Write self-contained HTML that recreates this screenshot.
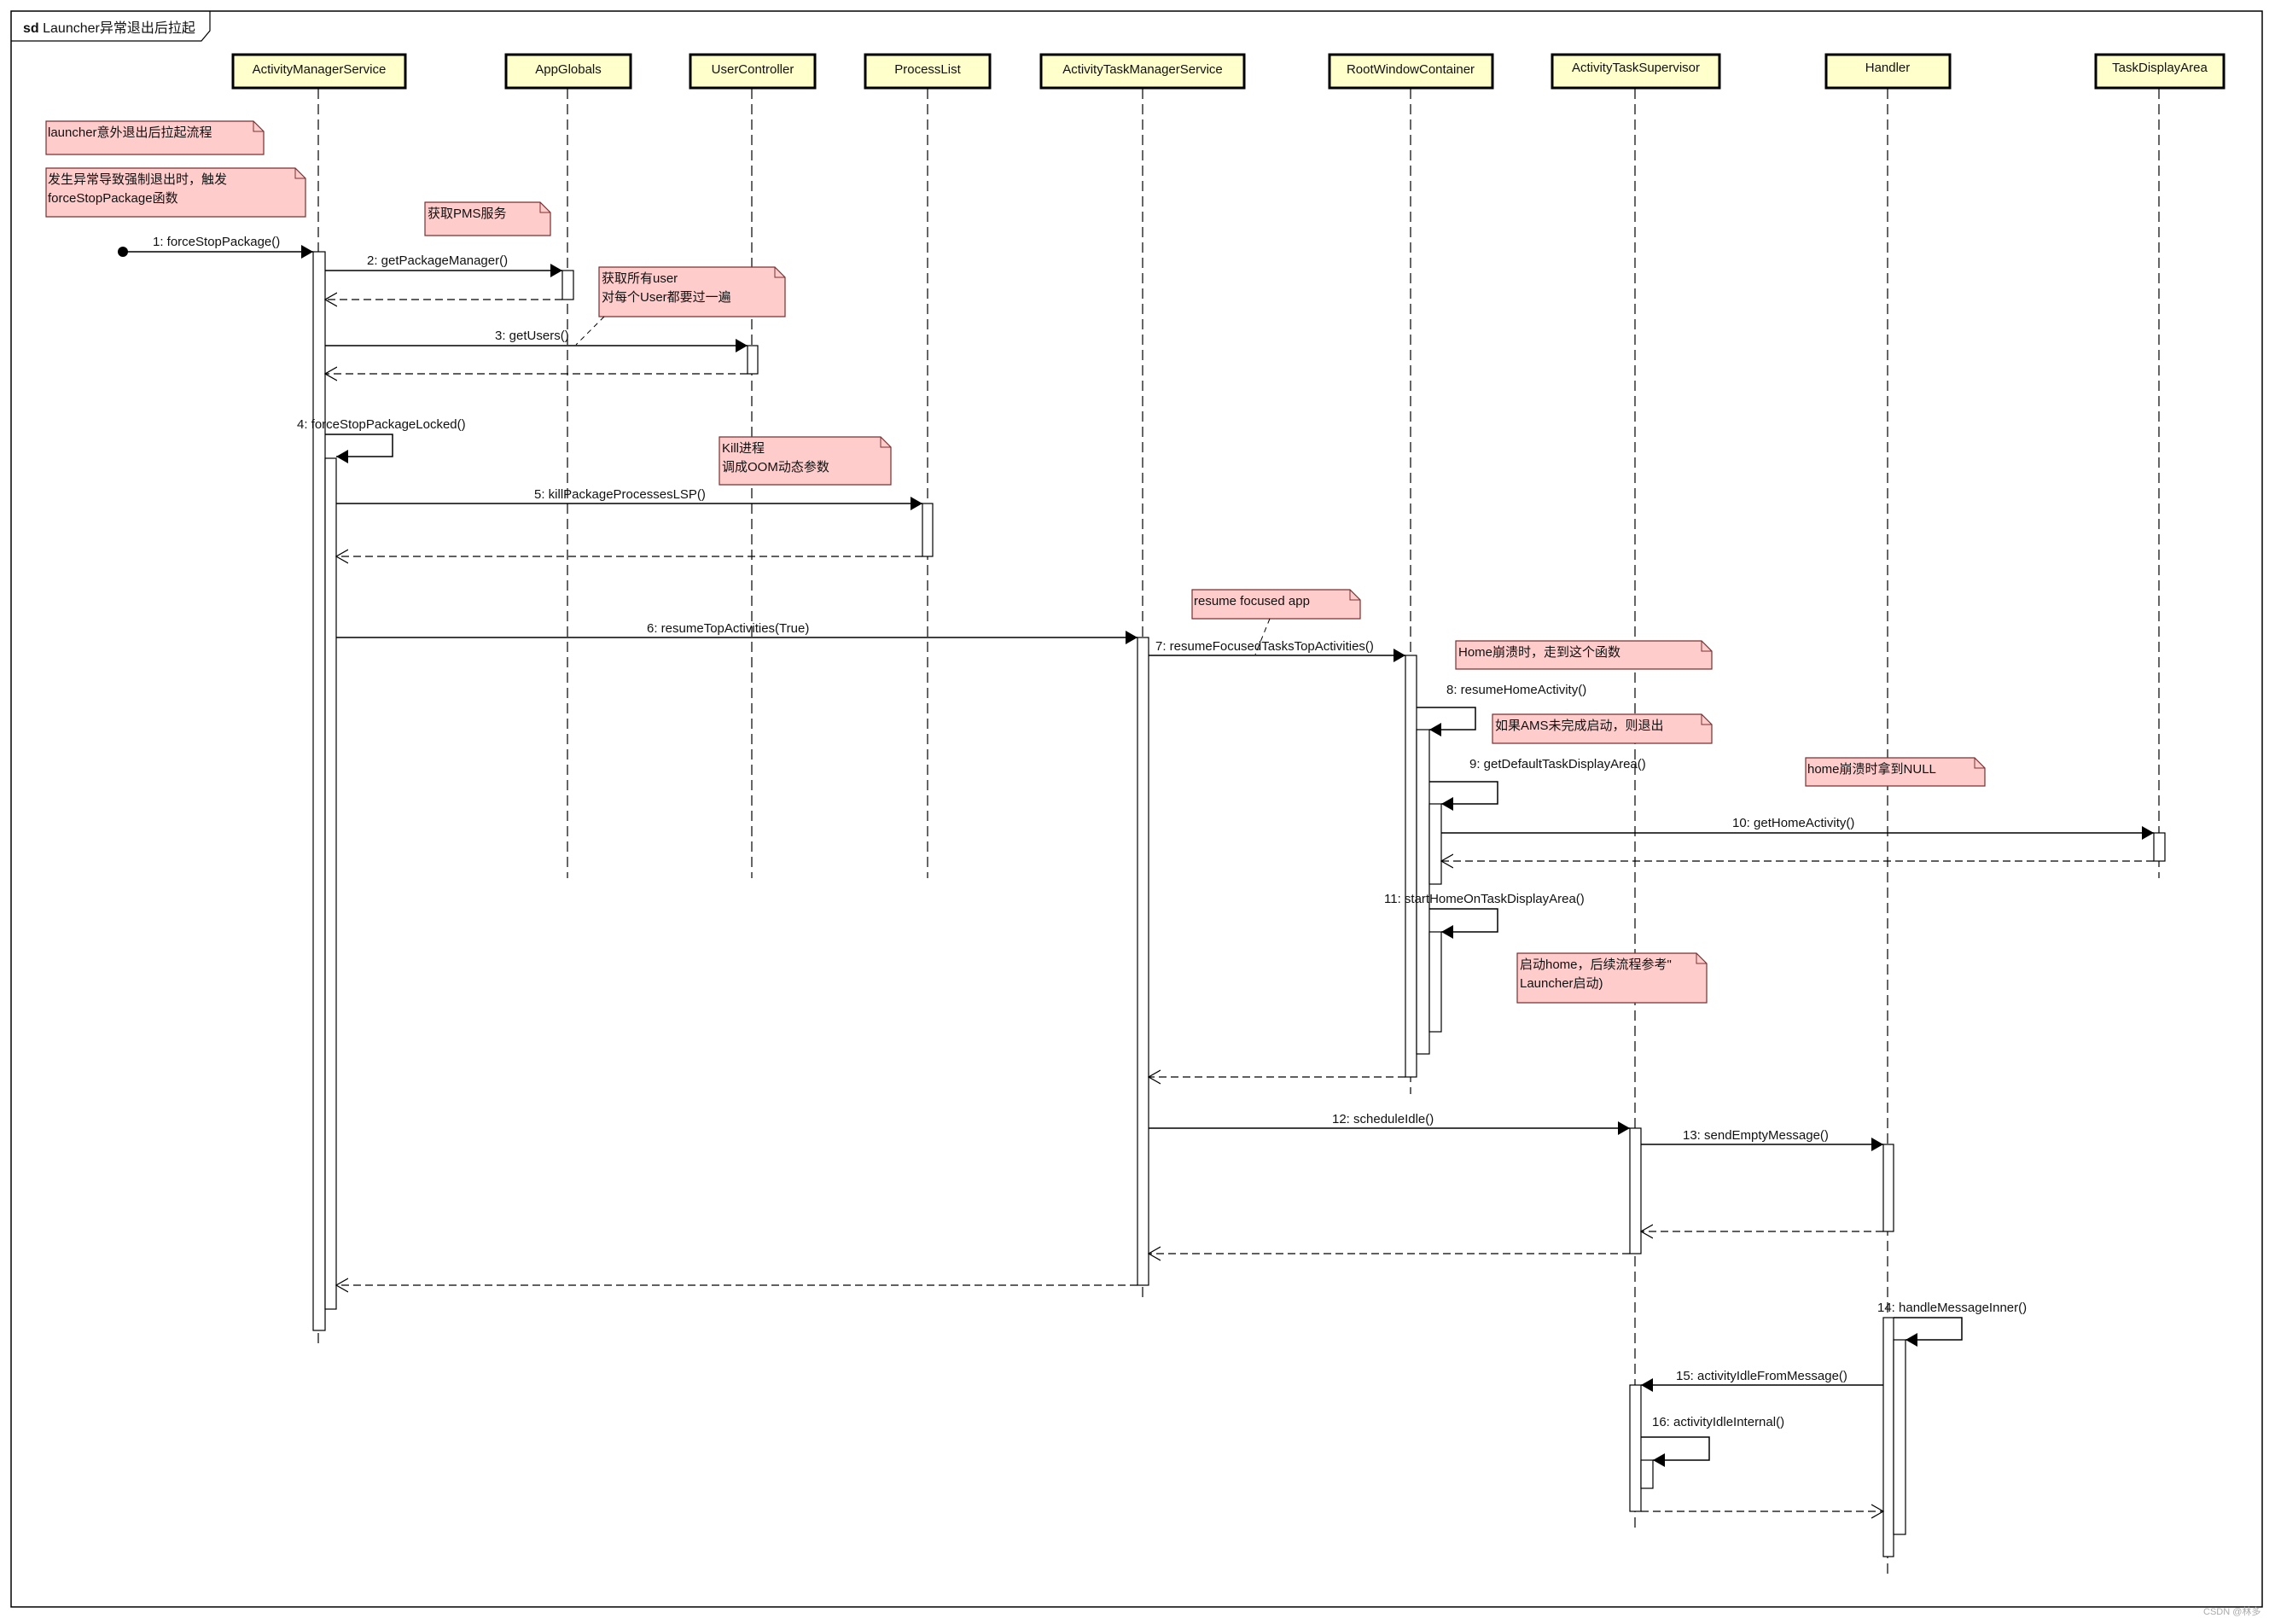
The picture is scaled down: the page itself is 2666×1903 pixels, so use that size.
<!DOCTYPE html>
<html><head><meta charset="utf-8"><style>
html,body{margin:0;padding:0;background:#fff;}
svg text{font-family:"Liberation Sans","Noto Sans CJK SC",sans-serif;font-size:15px;fill:#111;}
</style></head><body>
<svg width="2666" height="1898" viewBox="0 0 2666 1898" xmlns="http://www.w3.org/2000/svg">
<defs>
<marker id="f" markerWidth="16" markerHeight="16" refX="14" refY="8" orient="auto" markerUnits="userSpaceOnUse"><path d="M0,0 L14,8 L0,16 Z" fill="#000"/></marker>
<marker id="o" markerWidth="16" markerHeight="18" refX="14" refY="9" orient="auto" markerUnits="userSpaceOnUse"><path d="M0,1 L14,9 L0,17" fill="none" stroke="#000" stroke-width="1.2"/></marker>
</defs>
<rect x="13" y="13" width="2638" height="1870" fill="none" stroke="#000" stroke-width="1.5"/>
<path d="M13,48 L236,48 L246,36 L246,13" fill="none" stroke="#000" stroke-width="1.2"/>
<text x="27" y="38" style="font-size:16px"><tspan font-weight="bold">sd</tspan> Launcher异常退出后拉起</text>

<g stroke="#000" stroke-width="1.2" stroke-dasharray="12,6" fill="none">
<line x1="373" y1="104" x2="373" y2="1577"/>
<line x1="665" y1="104" x2="665" y2="1029"/>
<line x1="881" y1="104" x2="881" y2="1029"/>
<line x1="1087" y1="104" x2="1087" y2="1029"/>
<line x1="1339" y1="104" x2="1339" y2="1525"/>
<line x1="1653" y1="104" x2="1653" y2="1282"/>
<line x1="1916" y1="104" x2="1916" y2="1791"/>
<line x1="2212" y1="104" x2="2212" y2="1845"/>
<line x1="2530" y1="104" x2="2530" y2="1029"/>
</g>

<g fill="#ffffcc" stroke="#000" stroke-width="3">
<rect x="273" y="64" width="202" height="39"/>
<rect x="593" y="64" width="146" height="39"/>
<rect x="809" y="64" width="146" height="39"/>
<rect x="1014" y="64" width="146" height="39"/>
<rect x="1220" y="64" width="238" height="39"/>
<rect x="1558" y="64" width="191" height="39"/>
<rect x="1819" y="64" width="196" height="39"/>
<rect x="2140" y="64" width="145" height="39"/>
<rect x="2456" y="64" width="150" height="39"/>
</g>
<g text-anchor="middle">
<text x="374" y="86">ActivityManagerService</text>
<text x="666" y="86">AppGlobals</text>
<text x="882" y="86">UserController</text>
<text x="1087" y="86">ProcessList</text>
<text x="1339" y="86">ActivityTaskManagerService</text>
<text x="1653" y="86">RootWindowContainer</text>
<text x="1917" y="84">ActivityTaskSupervisor</text>
<text x="2212" y="84">Handler</text>
<text x="2531" y="84">TaskDisplayArea</text>
</g>

<!-- notes -->
<g fill="#ffcccc" stroke="#7a3030" stroke-width="1.2">
<path d="M54,142 H297 L309,154 V181 H54 Z"/>
<path d="M54,197 H346 L358,209 V254 H54 Z"/>
<path d="M498,237 H633 L645,249 V276 H498 Z"/>
<path d="M702,313 H908 L920,325 V371 H702 Z"/>
<path d="M843,512 H1032 L1044,524 V568 H843 Z"/>
<path d="M1397,691 H1582 L1594,703 V725 H1397 Z"/>
<path d="M1706,751 H1994 L2006,763 V784 H1706 Z"/>
<path d="M1749,837 H1994 L2006,849 V871 H1749 Z"/>
<path d="M2116,888 H2314 L2326,900 V921 H2116 Z"/>
<path d="M1778,1117 H1988 L2000,1129 V1175 H1778 Z"/>
</g>
<g fill="none" stroke="#7a3030" stroke-width="1">
<path d="M297,142 V154 H309"/><path d="M346,197 V209 H358"/><path d="M633,237 V249 H645"/>
<path d="M908,313 V325 H920"/><path d="M1032,512 V524 H1044"/><path d="M1582,691 V703 H1594"/>
<path d="M1994,751 V763 H2006"/><path d="M1994,837 V849 H2006"/><path d="M2314,888 V900 H2326"/>
<path d="M1988,1117 V1129 H2000"/>
</g>
<g>
<text x="56" y="160">launcher意外退出后拉起流程</text>
<text x="56" y="215">发生异常导致强制退出时，触发</text>
<text x="56" y="237">forceStopPackage函数</text>
<text x="501" y="255">获取PMS服务</text>
<text x="705" y="331">获取所有user</text>
<text x="705" y="353">对每个User都要过一遍</text>
<text x="846" y="530">Kill进程</text>
<text x="846" y="552">调成OOM动态参数</text>
<text x="1399" y="709">resume focused app</text>
<text x="1709" y="769">Home崩溃时，走到这个函数</text>
<text x="1752" y="855">如果AMS未完成启动，则退出</text>
<text x="2118" y="906">home崩溃时拿到NULL</text>
<text x="1781" y="1135">启动home，后续流程参考"</text>
<text x="1781" y="1157">Launcher启动)</text>
</g>
<g stroke="#000" stroke-width="1" stroke-dasharray="6,5">
<line x1="708" y1="371" x2="675" y2="404"/>
<line x1="1488" y1="725" x2="1471" y2="767"/>
</g>

<!-- activations -->
<g fill="#fff" stroke="#000" stroke-width="1.2">
<rect x="367" y="295" width="14" height="1264"/>
<rect x="381" y="537" width="13" height="997"/>
<rect x="659" y="317" width="13" height="34"/>
<rect x="876" y="405" width="12" height="33"/>
<rect x="1081" y="590" width="12" height="62"/>
<rect x="1333" y="747" width="13" height="759"/>
<rect x="1647" y="768" width="13" height="494"/>
<rect x="1660" y="855" width="15" height="380"/>
<rect x="1675" y="942" width="14" height="94"/>
<rect x="1675" y="1092" width="14" height="117"/>
<rect x="2524" y="976" width="13" height="33"/>
<rect x="1910" y="1322" width="13" height="147"/>
<rect x="1910" y="1623" width="13" height="148"/>
<rect x="1923" y="1711" width="14" height="33"/>
<rect x="2207" y="1341" width="12" height="102"/>
<rect x="2207" y="1544" width="12" height="280"/>
<rect x="2219" y="1570" width="14" height="228"/>
</g>

<!-- sync messages -->
<circle cx="144" cy="295" r="6" fill="#000"/>
<g stroke="#000" stroke-width="1.5" fill="none" marker-end="url(#f)">
<line x1="144" y1="295" x2="367" y2="295"/>
<line x1="381" y1="317" x2="659" y2="317"/>
<line x1="381" y1="405" x2="876" y2="405"/>
<path d="M381,509 H460 V535 H394"/>
<line x1="394" y1="590" x2="1081" y2="590"/>
<line x1="394" y1="747" x2="1333" y2="747"/>
<line x1="1346" y1="768" x2="1647" y2="768"/>
<path d="M1660,829 H1729 V855 H1675"/>
<path d="M1675,916 H1755 V942 H1689"/>
<line x1="1689" y1="976" x2="2524" y2="976"/>
<path d="M1675,1065 H1755 V1092 H1689"/>
<line x1="1346" y1="1322" x2="1910" y2="1322"/>
<line x1="1923" y1="1341" x2="2207" y2="1341"/>
<path d="M2219,1544 H2299 V1570 H2233"/>
<line x1="2207" y1="1623" x2="1923" y2="1623"/>
<path d="M1923,1684 H2003 V1711 H1937"/>
</g>
<!-- returns -->
<g stroke="#000" stroke-width="1.3" fill="none" stroke-dasharray="9,5" marker-end="url(#o)">
<line x1="659" y1="351" x2="381" y2="351"/>
<line x1="876" y1="438" x2="381" y2="438"/>
<line x1="1081" y1="652" x2="394" y2="652"/>
<line x1="2524" y1="1009" x2="1689" y2="1009"/>
<line x1="1647" y1="1262" x2="1346" y2="1262"/>
<line x1="2207" y1="1443" x2="1923" y2="1443"/>
<line x1="1910" y1="1469" x2="1346" y2="1469"/>
<line x1="1333" y1="1506" x2="394" y2="1506"/>
<line x1="1923" y1="1771" x2="2207" y2="1771"/>
</g>

<g>
<text x="179" y="288">1: forceStopPackage()</text>
<text x="430" y="310">2: getPackageManager()</text>
<text x="580" y="398">3: getUsers()</text>
<text x="348" y="502">4: forceStopPackageLocked()</text>
<text x="626" y="584">5: killPackageProcessesLSP()</text>
<text x="758" y="741">6: resumeTopActivities(True)</text>
<text x="1354" y="762">7: resumeFocusedTasksTopActivities()</text>
<text x="1695" y="813">8: resumeHomeActivity()</text>
<text x="1722" y="900">9: getDefaultTaskDisplayArea()</text>
<text x="2030" y="969">10: getHomeActivity()</text>
<text x="1622" y="1058">11: startHomeOnTaskDisplayArea()</text>
<text x="1561" y="1316">12: scheduleIdle()</text>
<text x="1972" y="1335">13: sendEmptyMessage()</text>
<text x="2200" y="1537">14: handleMessageInner()</text>
<text x="1964" y="1617">15: activityIdleFromMessage()</text>
<text x="1936" y="1671">16: activityIdleInternal()</text>
</g>
<text x="2582" y="1892" style="font-size:11px;fill:#aaa">CSDN @林多</text>
</svg>
</body></html>
